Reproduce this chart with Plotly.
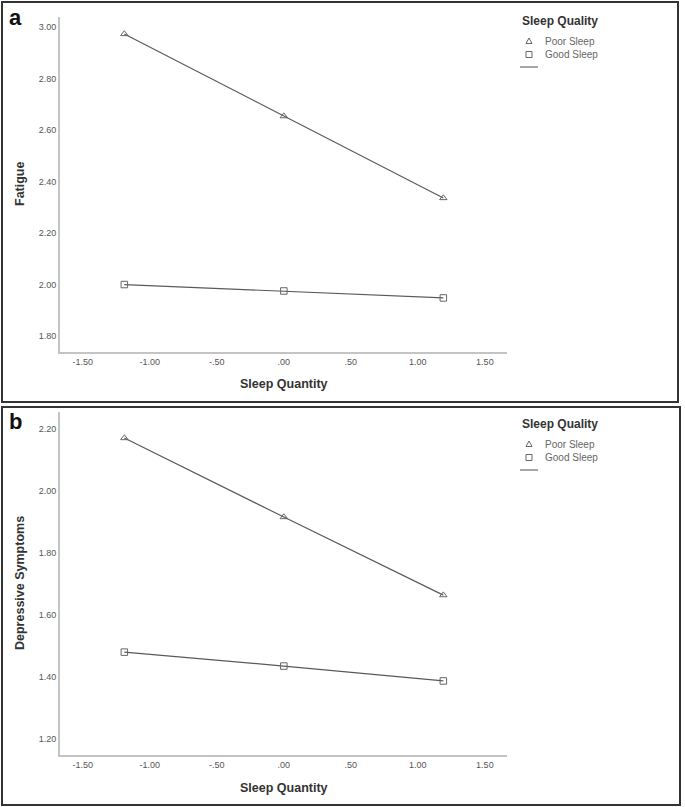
import plotly.graph_objects as go

# ---- data ----
sleep_quantity = [-1.19, 0.0, 1.19]
fatigue_poor = [2.973, 2.654, 2.336]
fatigue_good = [2.000, 1.975, 1.948]
dep_poor = [2.171, 1.916, 1.664]
dep_good = [1.480, 1.435, 1.387]

x_tickvals = [-1.5, -1.0, -0.5, 0.0, 0.5, 1.0, 1.5]
x_ticktext = ["-1.50", "-1.00", "-.50", ".00", ".50", "1.00", "1.50"]
ya_tickvals = [1.8, 2.0, 2.2, 2.4, 2.6, 2.8, 3.0]
ya_ticktext = ["1.80", "2.00", "2.20", "2.40", "2.60", "2.80", "3.00"]
yb_tickvals = [1.2, 1.4, 1.6, 1.8, 2.0, 2.2]
yb_ticktext = ["1.20", "1.40", "1.60", "1.80", "2.00", "2.20"]

W, H = 685, 807
FONT = "Liberation Sans, Arial, sans-serif"
LINE_C = "#5a5a5a"
MARK_C = "#666666"
TITLE_C = "#333333"

def px(x):
    return x / W

def py(y):
    return 1 - y / H

fig = go.Figure()

def add_series(xa, ya, ys, symbol):
    fig.add_trace(go.Scatter(
        x=sleep_quantity, y=ys, xaxis=xa, yaxis=ya, mode="lines+markers",
        line=dict(color=LINE_C, width=1.2),
        marker=dict(symbol=symbol, size=6.5, color=MARK_C, line=dict(color=MARK_C, width=1)),
        showlegend=False, hoverinfo="skip"))

add_series("x", "y", fatigue_poor, "triangle-up-open")
add_series("x", "y", fatigue_good, "square-open")
add_series("x2", "y2", dep_poor, "triangle-up-open")
add_series("x2", "y2", dep_good, "square-open")

xdom = [px(60), px(507)]
axis_common = dict(showgrid=False, zeroline=False, showline=True, linecolor="#c4c4c4",
                   linewidth=2, ticks="", tickfont=dict(family=FONT, size=9, color="#555555"),
                   fixedrange=True)

fig.update_layout(
    width=W, height=H,
    margin=dict(l=0, r=0, t=0, b=0),
    paper_bgcolor="white", plot_bgcolor="white",
    font=dict(family=FONT),
    xaxis=dict(domain=xdom, anchor="y", range=[-1.67, 1.665],
               tickvals=x_tickvals, ticktext=x_ticktext, **axis_common),
    yaxis=dict(domain=[py(352), py(17)], anchor="x", range=[1.738, 3.039],
               tickvals=ya_tickvals, ticktext=ya_ticktext, **axis_common),
    xaxis2=dict(domain=xdom, anchor="y2", range=[-1.67, 1.665],
                tickvals=x_tickvals, ticktext=x_ticktext, **axis_common),
    yaxis2=dict(domain=[py(755), py(412)], anchor="x2", range=[1.148, 2.255],
                tickvals=yb_tickvals, ticktext=yb_ticktext, **axis_common),
)

shapes = []
annots = []

# panel borders
shapes.append(dict(type="rect", xref="paper", yref="paper", x0=px(2), x1=px(678), y0=py(402), y1=py(2),
                   line=dict(color="#333333", width=2)))
shapes.append(dict(type="rect", xref="paper", yref="paper", x0=px(2), x1=px(680), y0=py(805), y1=py(407),
                   line=dict(color="#333333", width=2)))

def panel_text(top, letter, ytitle, ycenter, xtitle_y):
    annots.append(dict(text=f"<b>{letter}</b>", x=px(16), y=py(top + 16), xref="paper", yref="paper",
                       showarrow=False, font=dict(family=FONT, size=22, color="#111111"),
                       xanchor="center", yanchor="middle"))
    annots.append(dict(text=f"<b>{ytitle}</b>", x=px(20), y=py(ycenter), xref="paper", yref="paper",
                       showarrow=False, textangle=-90, font=dict(family=FONT, size=12.5, color=TITLE_C),
                       xanchor="center", yanchor="middle"))
    annots.append(dict(text="<b>Sleep Quantity</b>", x=px(284), y=py(xtitle_y), xref="paper", yref="paper",
                       showarrow=False, font=dict(family=FONT, size=12.5, color=TITLE_C),
                       xanchor="center", yanchor="middle"))
    # legend
    annots.append(dict(text="<b>Sleep Quality</b>", x=px(520), y=py(top + 19), xref="paper", yref="paper",
                       showarrow=False, font=dict(family=FONT, size=12, color=TITLE_C),
                       xanchor="left", yanchor="middle"))
    for i, name in enumerate(["Poor Sleep", "Good Sleep"]):
        yy = top + 39 + i * 13.5
        annots.append(dict(text=name, x=px(543), y=py(yy), xref="paper", yref="paper",
                           showarrow=False, font=dict(family=FONT, size=10, color="#666666"),
                           xanchor="left", yanchor="middle"))
    # legend glyphs
    ty = top + 39
    shapes.append(dict(type="path", xref="paper", yref="paper",
                       path=f"M {px(526)},{py(ty+2.5)} L {px(532)},{py(ty+2.5)} L {px(529)},{py(ty-3)} Z",
                       line=dict(color=MARK_C, width=1)))
    sy = top + 52.5
    shapes.append(dict(type="rect", xref="paper", yref="paper", x0=px(526), x1=px(532),
                       y0=py(sy+3), y1=py(sy-3), line=dict(color=MARK_C, width=1)))
    ly = top + 65
    shapes.append(dict(type="line", xref="paper", yref="paper", x0=px(520), x1=px(538),
                       y0=py(ly), y1=py(ly), line=dict(color="#888888", width=1.5)))

panel_text(2, "a", "Fatigue", 184, 384)
panel_text(405, "b", "Depressive Symptoms", 583, 788)

fig.update_layout(shapes=shapes, annotations=annots)
fig.write_html("out.html", config={"displayModeBar": False},
               post_script="document.body.style.margin='0';document.body.style.overflow='hidden';")
